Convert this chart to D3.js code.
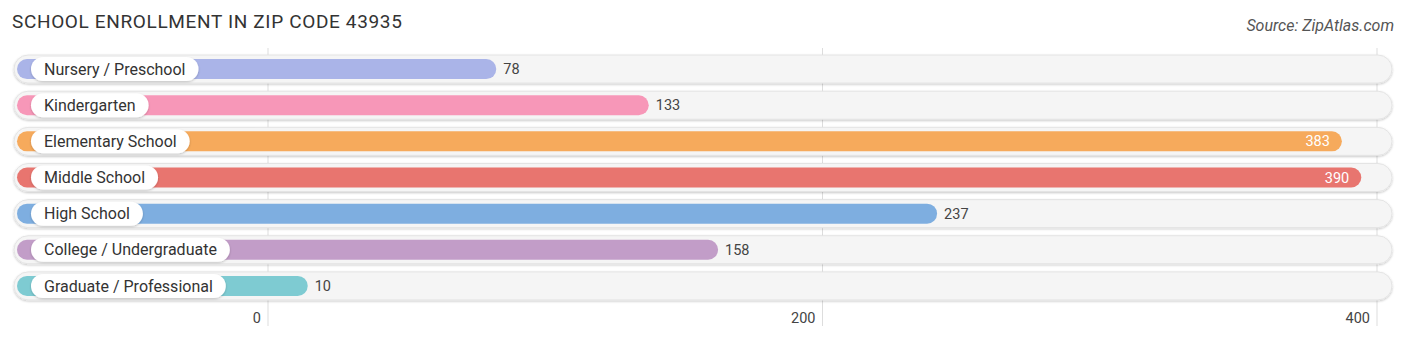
<html>
<head>
<script src="https://d3js.org/d3.v7.min.js"></script>
<style>
  body { margin: 0; background: #fff; }
  svg { font-family: Roboto, "Open Sans", sans-serif; }
</style>
</head>
<body>
<svg id="chart" width="1406" height="342"></svg>
<script>
// data
const categories = ["Nursery / Preschool", "Kindergarten", "Elementary School", "Middle School",
                    "High School", "College / Undergraduate", "Graduate / Professional"];
const values = [78, 133, 383, 390, 237, 158, 10];
const colors = ["#aab4e8", "#f797b8", "#f6aa5c", "#e8756f", "#7eaee0", "#c29dc8", "#7ecbd2"];
const ticks = [0, 200, 400];

const svg = d3.select('#chart');

const x = d3.scaleLinear().domain([0, 400]).range([268, 1377]);
const y = d3.scaleBand().domain(categories).range([51, 304]).paddingInner(0.22).paddingOuter(0.11);
const rowH = 28, barH = 20;

// title + source
svg.append('text')
    .attr('x', 12).attr('y', 28)
    .attr('font-size', 19).attr('fill', '#333')
    .attr('letter-spacing', 0.65)
    .text('SCHOOL ENROLLMENT IN ZIP CODE 43935');
svg.append('text')
    .attr('x', 1394).attr('y', 31)
    .attr('text-anchor', 'end')
    .attr('font-size', 16).attr('font-style', 'italic').attr('fill', '#555')
    .text('Source: ZipAtlas.com');

// gridlines
svg.append('g').selectAll('line').data(ticks).enter()
    .append('line')
    .attr('x1', d => x(d)).attr('x2', d => x(d))
    .attr('y1', 48).attr('y2', 326)
    .attr('stroke', '#ddd').attr('stroke-width', 1);

const defs = svg.append('defs');
const f = defs.append('filter').attr('id', 'shadow').attr('x', '-5%').attr('y', '-50%').attr('width', '110%').attr('height', '200%');
f.append('feDropShadow').attr('dx', 0).attr('dy', 1).attr('stdDeviation', 1.2).attr('flood-color', '#000').attr('flood-opacity', 0.22);

const rows = svg.append('g').selectAll('g').data(categories).enter()
    .append('g')
    .attr('transform', d => `translate(0,${y(d) + y.bandwidth() / 2})`);

// row background pills
rows.append('rect')
    .attr('x', 14).attr('y', -rowH / 2)
    .attr('width', 1392 - 14).attr('height', rowH)
    .attr('rx', rowH / 2)
    .attr('fill', '#f5f5f5')
    .attr('stroke', '#e4e4e4').attr('stroke-width', 1)
    .attr('filter', 'url(#shadow)');

// bars
rows.append('rect')
    .attr('x', 17).attr('y', -barH / 2)
    .attr('width', (d, i) => x(values[i]) + 12 - 17)
    .attr('height', barH)
    .attr('rx', barH / 2)
    .attr('fill', (d, i) => colors[i]);

// label pills
const labels = rows.append('g');
labels.append('text')
    .attr('x', 44).attr('y', 0)
    .attr('dy', '0.35em')
    .attr('font-size', 16).attr('fill', '#333')
    .text(d => d);
labels.each(function() {
    const g = d3.select(this);
    const w = g.select('text').node().getComputedTextLength();
    g.insert('rect', 'text')
        .attr('x', 31).attr('y', -12)
        .attr('width', w + 26).attr('height', 24)
        .attr('rx', 12)
        .attr('fill', '#fff')
        .attr('filter', 'url(#shadow)');
});

// value labels
rows.append('text')
    .attr('x', (d, i) => values[i] > 300 ? x(values[i]) + 12 - 12 : x(values[i]) + 12 + 7)
    .attr('y', 0).attr('dy', '0.35em')
    .attr('text-anchor', (d, i) => values[i] > 300 ? 'end' : 'start')
    .attr('font-size', 14.5)
    .attr('fill', (d, i) => values[i] > 300 ? '#fff' : '#444')
    .text((d, i) => values[i]);

// axis labels
svg.append('g').selectAll('text').data(ticks).enter()
    .append('text')
    .attr('x', d => x(d) - 7).attr('y', 323)
    .attr('text-anchor', 'end')
    .attr('font-size', 14.5).attr('fill', '#444')
    .text(d => d);
</script>
</body>
</html>
